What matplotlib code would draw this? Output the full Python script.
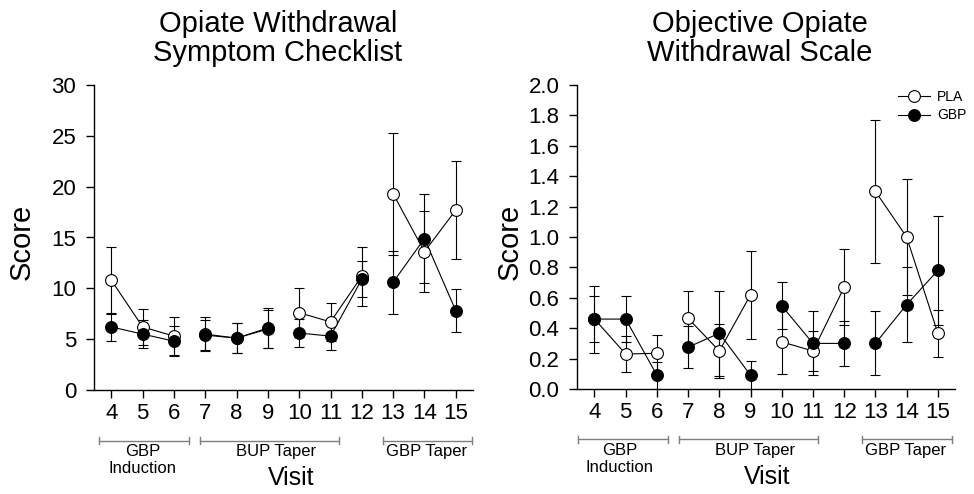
import matplotlib
matplotlib.use("Agg")
import matplotlib.pyplot as plt
from matplotlib.lines import Line2D
from matplotlib.transforms import blended_transform_factory

plt.rcParams["font.family"] = ["Liberation Sans", "DejaVu Sans"]

visits = [4, 5, 6, 7, 8, 9, 10, 11, 12, 13, 14, 15]

# Opiate Withdrawal Symptom Checklist
oswc_pla = [10.8, 6.2, 5.3, 5.5, 5.1, 6.0, 7.6, 6.7, 11.2, 19.3, 13.6, 17.7]
oswc_pla_err = [3.3, 1.8, 1.9, 1.65, 1.5, 1.9, 2.4, 1.9, 2.9, 6.0, 4.0, 4.85]
oswc_gbp = [6.2, 5.5, 4.8, 5.4, 5.1, 6.1, 5.6, 5.3, 10.9, 10.6, 14.9, 7.8]
oswc_gbp_err = [1.35, 1.4, 1.5, 1.5, 1.5, 2.0, 1.35, 1.4, 1.8, 3.1, 4.4, 2.1]

# Objective Opiate Withdrawal Scale
oows_pla = [0.46, 0.23, 0.235, 0.465, 0.25, 0.62, 0.31, 0.25, 0.67, 1.30, 1.00, 0.367]
oows_pla_err = [0.22, 0.12, 0.12, 0.18, 0.18, 0.29, 0.21, 0.13, 0.25, 0.47, 0.38, 0.155]
oows_gbp = [0.46, 0.46, 0.09, 0.275, 0.367, 0.09, 0.547, 0.30, 0.30, 0.30, 0.555, 0.78]
oows_gbp_err = [0.15, 0.15, 0.09, 0.14, 0.28, 0.095, 0.155, 0.21, 0.15, 0.21, 0.245, 0.36]

phase_labels = ["GBP\nInduction", "BUP Taper", "GBP Taper"]
segments = [(0, 3), (3, 6), (6, 9), (9, 12)]

W, H = 974, 494
fig = plt.figure(figsize=(W / 100, H / 100), dpi=100)


def px_axes(x0, x1, ytop, ybot):
    return fig.add_axes([x0 / W, 1 - ybot / H, (x1 - x0) / W, (ybot - ytop) / H])


def draw(ax, pla, pla_err, gbp, gbp_err, ylim, yticks, fmt, visit_x,
         spans, phase_x):
    lw = 0.8
    for mean, err in [(pla, pla_err), (gbp, gbp_err)]:
        ax.errorbar(visits, mean, yerr=err, fmt="none", ecolor="black",
                    elinewidth=lw, capsize=3.6, capthick=lw, zorder=2)
        for a, b in segments:
            ax.plot(visits[a:b], mean[a:b], "-", color="black", lw=lw, zorder=2)
    ax.plot(visits, pla, "o", ms=8.5, mfc="white", mec="black", mew=lw, zorder=3)
    ax.plot(visits, gbp, "o", ms=8.5, mfc="black", mec="black", mew=lw, zorder=4)

    ax.set_xlim(3.43, 15.55)
    ax.set_ylim(*ylim)
    ax.set_xticks(visits)
    ax.set_yticks(yticks)
    ax.set_yticklabels([fmt.format(v) for v in yticks])
    for s in ["top", "right"]:
        ax.spines[s].set_visible(False)
    for s in ["left", "bottom"]:
        ax.spines[s].set_linewidth(1.0)
    ax.tick_params(axis="both", direction="out", length=5.5, width=1.0,
                   labelsize=16)
    ax.tick_params(axis="y", pad=7)
    ax.tick_params(axis="x", pad=4)

    # phase brackets under the visit numbers
    tr = blended_transform_factory(ax.transData, ax.transAxes)
    gray = "#7f7f7f"
    for label, (x0, x1), lx in zip(phase_labels, spans, phase_x):
        ax.plot([x0, x1], [-0.166, -0.166], color=gray, lw=1, transform=tr,
                clip_on=False)
        for xe in (x0, x1):
            ax.plot([xe, xe], [-0.155, -0.177], color=gray, lw=1, transform=tr,
                    clip_on=False)
        ax.text(lx, -0.178, label, transform=tr, ha="center", va="top",
                fontsize=12, linespacing=1.15)
    ax.text(visit_x, -0.289, "Visit", transform=tr, ha="center", va="center",
            fontsize=18)


ax1 = px_axes(93.5, 473, 85, 390)
draw(ax1, oswc_pla, oswc_pla_err, oswc_gbp, oswc_gbp_err, (0, 30),
     [0, 5, 10, 15, 20, 25, 30], "{:.0f}", 9.75,
     [(3.6, 6.48), (6.84, 11.27), (12.68, 15.52)], [5.0, 9.27, 14.06])

ax2 = px_axes(576.7, 955, 85, 389)
draw(ax2, oows_pla, oows_pla_err, oows_gbp, oows_gbp_err, (0, 2.0),
     [0.0, 0.2, 0.4, 0.6, 0.8, 1.0, 1.2, 1.4, 1.6, 1.8, 2.0], "{:.1f}",
     9.53, [(3.48, 6.35), (6.7, 11.16), (12.56, 15.46)], [4.8, 9.16, 13.97])

handles = [
    Line2D([], [], color="black", lw=0.8, marker="o", ms=8.5, mfc="white",
           mec="black", mew=0.8),
    Line2D([], [], color="black", lw=0.8, marker="o", ms=8.5, mfc="black",
           mec="black", mew=0.8),
]
ax2.legend(handles, ["PLA", "GBP"], loc="upper left",
           bbox_to_anchor=(0.849, 0.985), frameon=False, fontsize=10,
           handlelength=2.3, handletextpad=0.5, labelspacing=0.35,
           borderpad=0, borderaxespad=0)

fig.text(278 / W, 1 - 38.5 / H, "Opiate Withdrawal\nSymptom Checklist",
         ha="center", va="center", fontsize=21, linespacing=1.05)
fig.text(760 / W, 1 - 38.5 / H, "Objective Opiate\nWithdrawal Scale",
         ha="center", va="center", fontsize=21, linespacing=1.05)
fig.text(22 / W, 1 - 241.7 / H, "Score", rotation=90, ha="center",
         va="center", fontsize=21)
fig.text(510 / W, 1 - 241.7 / H, "Score", rotation=90, ha="center",
         va="center", fontsize=21)

fig.savefig("out.png", dpi=100)
